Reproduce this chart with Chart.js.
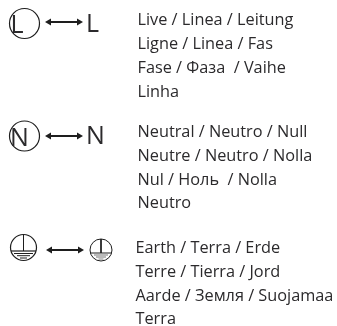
<!DOCTYPE html>
<html><head><meta charset="utf-8">
<style>html,body{margin:0;padding:0;background:#fff}canvas{display:block}</style>
<script src="https://cdn.jsdelivr.net/npm/chart.js@4"></script>
</head><body><canvas id="c" width="337" height="326"></canvas>
<script>
const liveLines = ["Live / Linea / Leitung","Ligne / Linea / Fas","Fase / Фаза  / Vaihe","Linha"];
const neutralLines = ["Neutral / Neutro / Null","Neutre / Neutro / Nolla","Nul / Ноль  / Nolla","Neutro"];
const earthLines = ["Earth / Terra / Erde","Terre / Tierra / Jord","Aarde / Земля / Suojamaa","Terra"];
const symbolLetters = ["L","N"];

const INK = "#2b2a2c";
const BODY = '16.3px "Open Sans"';
const BIG = '25px "Open Sans"';
const texts = [
  ...liveLines.map((t,i)=>({t,x:137.5,y:[25,49,73,97][i],f:BODY})),
  ...neutralLines.map((t,i)=>({t,x:137.5,y:[137,161,185,208][i],f:BODY})),
  ...earthLines.map((t,i)=>({t,x:135.5,y:[253,277,301,324][i],f:BODY})),
  {t:symbolLetters[0],x:10.5,y:33,f:BIG},{t:symbolLetters[0],x:86,y:32,f:BIG},
  {t:symbolLetters[1],x:10,y:145.5,f:BIG},{t:symbolLetters[1],x:86,y:144,f:BIG}
];
const ring=(x,y,r,w)=>({data:[{x,y}],pointRadius:r,pointHoverRadius:r,pointBackgroundColor:"rgba(0,0,0,0)",pointBorderColor:"#1e1e1e",pointBorderWidth:w,showLine:false,clip:false});
const seg=(x1,y1,x2,y2,w,c)=>({data:[{x:x1,y:y1},{x:x2,y:y2}],showLine:true,pointRadius:0,borderColor:c||"#1e1e1e",borderWidth:w,clip:false});
const head=(x,y,rot)=>({data:[{x,y}],pointStyle:"triangle",rotation:rot,pointRadius:4,pointBackgroundColor:"#1e1e1e",pointBorderColor:"#1e1e1e",pointBorderWidth:0,showLine:false,clip:false});
const arrow=(x1,x2,y)=>[seg(x1+3,y,x2-3,y,2),head(x1+3,y,-90),head(x2-3,y,90)];
const datasets=[
  ring(24.5,23.5,15,1.2),...arrow(46,82,22),
  ring(24.5,136,15,1.2),...arrow(46,82,136),
  ring(23.5,247.5,13,1.2),seg(23.5,234.5,23.5,251,1),seg(11,251,36,251,1.2),
  seg(14,253.5,33,253.5,1),seg(17,255.7,30,255.7,1),seg(20,258,27,258,1),
  ...arrow(47,83,250),
  ring(101,250,11,1),seg(101,239,101,253,1),seg(90.5,253,111.5,253,1),
  seg(94,255,108,255,1,"#777"),seg(96,257,106,257,1,"#777"),seg(98.5,259,103.5,259,1,"#888")
];
const textPlugin={id:"textPlugin",afterDatasetsDraw(ch){
  const g=ch.ctx,X=ch.scales.x,Y=ch.scales.y;
  g.save();g.fillStyle=INK;g.textBaseline="alphabetic";
  texts.forEach(o=>{g.font=o.f;g.fillText(o.t,X.getPixelForValue(o.x),Y.getPixelForValue(o.y));});
  g.restore();
}};
new Chart(document.getElementById("c"),{type:"scatter",data:{datasets},plugins:[textPlugin],options:{
  responsive:false,animation:false,events:[],
  layout:{padding:0,autoPadding:false},
  plugins:{legend:{display:false},tooltip:{enabled:false},title:{display:false}},
  scales:{x:{type:"linear",min:0,max:337,display:false},y:{type:"linear",min:0,max:326,reverse:true,display:false}}
}});
</script></body></html>
